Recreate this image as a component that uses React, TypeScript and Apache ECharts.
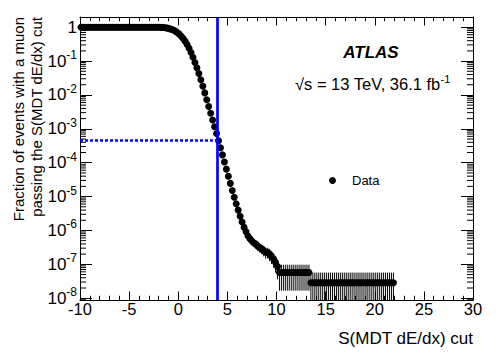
import React, { useEffect, useRef } from 'react';
import * as echarts from 'echarts';

// ---- axis ranges ----
const X_MIN = -10;
const X_MAX = 30;
const X_INTERVAL = 5;
const Y_MIN = 0.885e-8;
const Y_MAX = 2.0;

// ---- binning of the cut scan (bin centres) ----
const BIN_START = -9.9;
const BIN_WIDTH = 0.2;
const TOTAL_EVENTS = 3.5e7;

// fraction passing the cut, bins -9.9 ... 6.9
const fractionHead = [
  1, 1, 1, 1, 1, 1, 1, 1, 1, 1,
  1, 1, 1, 1, 1, 1, 1, 1, 1, 1,
  1, 1, 1, 1, 1, 1, 1, 1, 1, 1,
  1, 1, 1, 1, 1, 1, 1, 1, 1, 1,
  0.9931, 0.9863, 0.975, 0.9594, 0.9376, 0.9078, 0.871, 0.822, 0.767, 0.7,
  0.624, 0.543, 0.462, 0.385, 0.309, 0.24, 0.178, 0.129, 0.0912, 0.0631,
  0.0427, 0.0282, 0.0182, 0.0115, 7.24e-3, 4.57e-3, 2.88e-3, 1.82e-3, 1.15e-3, 7.24e-4,
  4.47e-4, 2.75e-4, 1.7e-4, 1.05e-4, 6.46e-5, 3.98e-5, 2.45e-5, 1.51e-5, 9.55e-6, 6.17e-6,
  3.98e-6, 2.63e-6, 1.78e-6, 1.23e-6, 9.12e-7,
];

// event counts passing the cut, bins 7.1 ... 21.9
const tailCounts = [
  24, 20, 17, 15, 14, 12, 11, 10, 9, 8, 8, 7, 6, 5, 4, 3,
  2, 2, 2, 2, 2, 2, 2, 2, 2, 2, 2, 2, 2, 2, 2, 2,
  1, 1, 1, 1, 1, 1, 1, 1, 1, 1, 1, 1, 1, 1, 1, 1, 1, 1, 1, 1,
  1, 1, 1, 1, 1, 1, 1, 1, 1, 1, 1, 1, 1, 1, 1, 1, 1, 1, 1, 1,
  1, 1, 1,
];

const CUT_VALUE = 4;
const FRACTION_AT_CUT = 4.47e-4;

const FONT = '"Liberation Sans", Arial, Helvetica, sans-serif';

const fractions = [...fractionHead, ...tailCounts.map((c) => c / TOTAL_EVENTS)];
const points = fractions.map((f, i) => [+(BIN_START + i * BIN_WIDTH).toFixed(2), f]);
const errorData = points.map(([x, f]) => {
  const err = Math.sqrt(f / TOTAL_EVENTS);
  return [x, Math.max(f - err, Y_MIN), Math.min(f + err, Y_MAX)];
});

const yMinorTicks: number[][] = [];
for (let k = -9; k <= 0; k++) {
  for (let m = 2; m <= 9; m++) {
    const v = m * Math.pow(10, k);
    if (v > Y_MIN && v < Y_MAX) yMinorTicks.push([X_MIN, v]);
  }
}

const axisSupRich = {
  sup: { fontSize: 12, fontFamily: FONT, color: '#000', padding: [0, 0, 12, 0] },
};
const textSupRich = {
  sup: { fontSize: 11, fontFamily: FONT, color: '#000', padding: [0, 0, 10, 0] },
};

export default function App() {
  const ref = useRef<HTMLDivElement>(null);
  useEffect(() => {
    if (!ref.current) return;
    const chart = echarts.init(ref.current, undefined, { renderer: 'svg' });
    const yAxisBase = {
      type: 'log',
      logBase: 10,
      min: Y_MIN,
      max: Y_MAX,
      axisLine: { show: true, onZero: false, lineStyle: { color: '#000', width: 1 } },
      axisTick: { show: true, inside: true, length: 12, lineStyle: { color: '#000', width: 1 } },
      minorTick: { show: false },
      splitLine: { show: false },
    };
    const xAxisBase = {
      type: 'value',
      min: X_MIN,
      max: X_MAX,
      interval: X_INTERVAL,
      axisLine: { show: true, onZero: false, lineStyle: { color: '#000', width: 1 } },
      axisTick: { show: true, inside: true, length: 8.5, lineStyle: { color: '#000', width: 1 } },
      minorTick: { show: true, splitNumber: 5, length: 4.2, lineStyle: { color: '#000', width: 1 } },
      splitLine: { show: false },
    };
    chart.setOption({
      animation: false,
      backgroundColor: '#fff',
      grid: { left: 80, right: 25, top: 17, bottom: 58, containLabel: false, outerBoundsMode: 'none' },
      legend: {
        data: ['Data'],
        left: 329,
        top: 174,
        padding: 0,
        itemWidth: 29,
        itemHeight: 7,
        icon: 'circle',
        selectedMode: false,
        itemStyle: { opacity: 1, color: '#000' },
        textStyle: { fontSize: 13, color: '#000', fontFamily: FONT },
      },
      xAxis: [
        {
          ...xAxisBase,
          position: 'bottom',
          axisLabel: { show: true, color: '#000', fontSize: 16.5, fontFamily: FONT, margin: 0 },
        },
        { ...xAxisBase, position: 'top', axisLabel: { show: false } },
      ],
      yAxis: [
        {
          ...yAxisBase,
          position: 'left',
          axisLabel: {
            show: true,
            color: '#000',
            fontSize: 17,
            fontFamily: FONT,
            margin: 3,
            showMinLabel: false,
            showMaxLabel: false,
            formatter: (v: number) => {
              const e = Math.round(Math.log10(v));
              return e === 0 ? '1' : `10{sup|${e}}`;
            },
            rich: axisSupRich,
          },
        },
        { ...yAxisBase, position: 'right', axisLabel: { show: false } },
      ],
      graphic: [
        {
          type: 'text',
          x: 27,
          y: 17,
          rotation: Math.PI / 2,
          style: {
            text: 'Fraction of events with a muon\npassing the S(MDT dE/dx) cut',
            fontSize: 15,
            lineHeight: 18,
            fontFamily: FONT,
            fill: '#000',
            align: 'right',
            verticalAlign: 'middle',
          },
        },
        {
          type: 'text',
          x: 473,
          y: 338,
          style: {
            text: 'S(MDT dE/dx) cut',
            fontSize: 17,
            fontFamily: FONT,
            fill: '#000',
            align: 'right',
            verticalAlign: 'middle',
          },
        },
        {
          type: 'text',
          x: 371,
          y: 52,
          style: {
            text: 'ATLAS',
            fontSize: 17,
            fontWeight: 'bold',
            fontStyle: 'italic',
            fontFamily: FONT,
            fill: '#000',
            align: 'center',
            verticalAlign: 'middle',
          },
        },
        {
          type: 'text',
          x: 295,
          y: 84,
          style: {
            text: '√s = 13 TeV, 36.1 fb{sup|-1}',
            fontSize: 16.5,
            fontFamily: FONT,
            fill: '#000',
            align: 'left',
            verticalAlign: 'middle',
            rich: textSupRich,
          },
        },
      ],
      series: [
        {
          type: 'custom',
          name: 'yMinorTicks',
          xAxisIndex: 0,
          yAxisIndex: 0,
          silent: true,
          data: yMinorTicks,
          encode: { x: 0, y: 1 },
          renderItem: (_p: any, api: any) => {
            const v = api.value(1);
            const l = api.coord([X_MIN, v]);
            const r = api.coord([X_MAX, v]);
            const st = { stroke: '#000', lineWidth: 1 };
            return {
              type: 'group',
              children: [
                { type: 'line', shape: { x1: l[0], y1: l[1], x2: l[0] + 6, y2: l[1] }, style: st },
                { type: 'line', shape: { x1: r[0], y1: r[1], x2: r[0] - 6, y2: r[1] }, style: st },
              ],
            };
          },
        },
        {
          type: 'custom',
          name: 'errors',
          xAxisIndex: 0,
          yAxisIndex: 0,
          silent: true,
          data: errorData,
          encode: { x: 0, y: [1, 2] },
          renderItem: (_p: any, api: any) => {
            const x = api.value(0);
            const p1 = api.coord([x, api.value(1)]);
            const p2 = api.coord([x, api.value(2)]);
            return {
              type: 'line',
              shape: { x1: p1[0], y1: p1[1], x2: p2[0], y2: p2[1] },
              style: { stroke: '#000', lineWidth: 1 },
            };
          },
        },
        {
          type: 'scatter',
          name: 'Data',
          xAxisIndex: 0,
          yAxisIndex: 0,
          data: points,
          symbol: 'circle',
          symbolSize: 7,
          itemStyle: { color: '#000', opacity: 1 },
          silent: true,
          markLine: {
            silent: true,
            symbol: ['none', 'none'],
            label: { show: false },
            z: 5,
            data: [
              { xAxis: CUT_VALUE, lineStyle: { color: '#0000ff', width: 2.7, type: 'solid' } },
              [
                { coord: [X_MIN, FRACTION_AT_CUT], lineStyle: { color: '#0000ff', width: 2.7, type: [3, 2] } },
                { coord: [CUT_VALUE, FRACTION_AT_CUT] },
              ],
            ],
          },
        },
      ],
    });
    return () => chart.dispose();
  }, []);
  return (
    <div
      ref={ref}
      style={{ position: 'absolute', left: 0, top: 0, width: 498, height: 358 }}
    />
  );
}
